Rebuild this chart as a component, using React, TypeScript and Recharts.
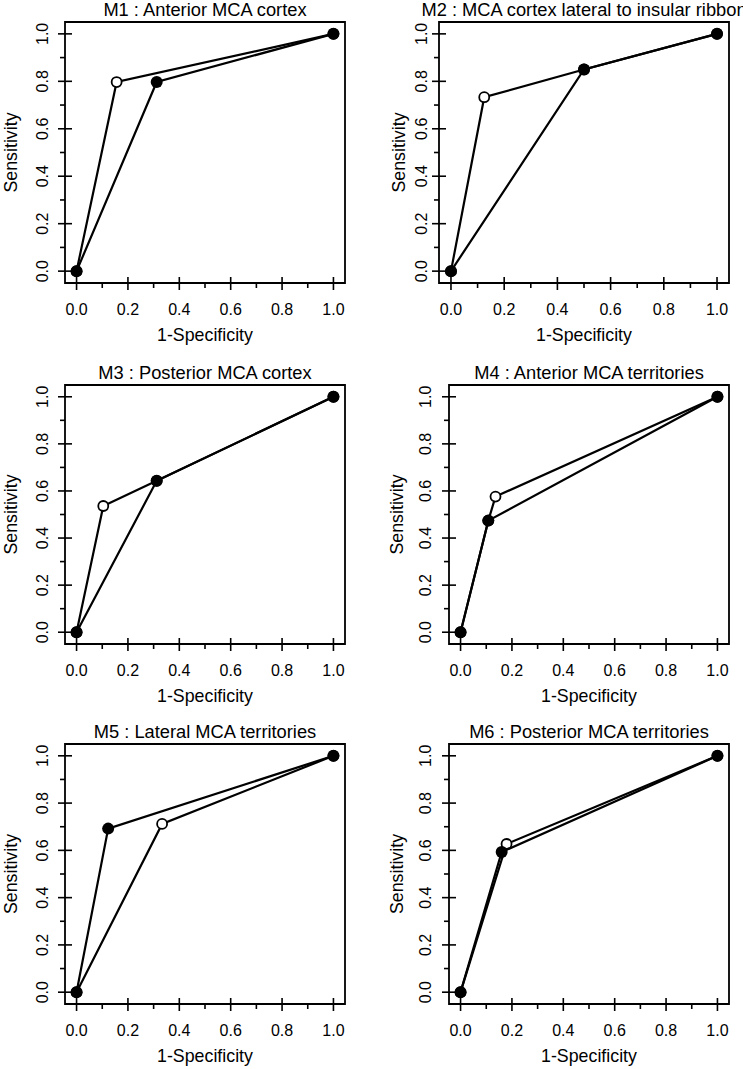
import React from "react";
import { ScatterChart, Scatter, XAxis, YAxis, ReferenceArea } from "recharts";

type Pt = { x: number; y: number };

const FONT = '"Liberation Sans", Arial, Helvetica, sans-serif';

// tick values shared by both axes (labels only on the even ones)
const axisTicks = [0, 0.1, 0.2, 0.3, 0.4, 0.5, 0.6, 0.7, 0.8, 0.9, 1.0];

const titles = [
  "M1 : Anterior MCA cortex",
  "M2 : MCA cortex lateral to insular ribbon",
  "M3 : Posterior MCA cortex",
  "M4 : Anterior MCA territories",
  "M5 : Lateral MCA territories",
  "M6 : Posterior MCA territories",
];

const m1Open: Pt[] = [{ x: 0, y: 0 }, { x: 0.156, y: 0.797 }, { x: 1, y: 1 }];
const m1Filled: Pt[] = [{ x: 0, y: 0 }, { x: 0.312, y: 0.797 }, { x: 1, y: 1 }];

const m2Open: Pt[] = [{ x: 0, y: 0 }, { x: 0.125, y: 0.733 }, { x: 0.5, y: 0.85 }, { x: 1, y: 1 }];
const m2Filled: Pt[] = [{ x: 0, y: 0 }, { x: 0.5, y: 0.85 }, { x: 1, y: 1 }];

const m3Open: Pt[] = [{ x: 0, y: 0 }, { x: 0.104, y: 0.536 }, { x: 0.312, y: 0.643 }, { x: 1, y: 1 }];
const m3Filled: Pt[] = [{ x: 0, y: 0 }, { x: 0.312, y: 0.643 }, { x: 1, y: 1 }];

const m4Open: Pt[] = [{ x: 0, y: 0 }, { x: 0.108, y: 0.474 }, { x: 0.136, y: 0.576 }, { x: 1, y: 1 }];
const m4Filled: Pt[] = [{ x: 0, y: 0 }, { x: 0.108, y: 0.474 }, { x: 1, y: 1 }];

const m5Open: Pt[] = [{ x: 0, y: 0 }, { x: 0.333, y: 0.712 }, { x: 1, y: 1 }];
const m5Filled: Pt[] = [{ x: 0, y: 0 }, { x: 0.123, y: 0.692 }, { x: 1, y: 1 }];

const m6Open: Pt[] = [{ x: 0, y: 0 }, { x: 0.179, y: 0.627 }, { x: 1, y: 1 }];
const m6Filled: Pt[] = [{ x: 0, y: 0 }, { x: 0.16, y: 0.593 }, { x: 1, y: 1 }];

const X_DOMAIN: [number, number] = [-0.045, 1.045];
const Y_DOMAIN: [number, number] = [-0.05, 1.05];
const Y_AXIS_W = 70;
const X_AXIS_H = 72;
const PAD = 6;

// plot box of each panel on the page, plus label offsets from the box's left edge
const panels = [
  { title: titles[0], open: m1Open, filled: m1Filled, box: { l: 65, t: 22, r: 345, b: 283 }, tickOff: 23, labOff: 54 },
  { title: titles[1], open: m2Open, filled: m2Filled, box: { l: 439, t: 22, r: 729, b: 283 }, tickOff: 18, labOff: 40 },
  { title: titles[2], open: m3Open, filled: m3Filled, box: { l: 65, t: 385, r: 345, b: 644 }, tickOff: 23, labOff: 54 },
  { title: titles[3], open: m4Open, filled: m4Filled, box: { l: 449, t: 385, r: 729, b: 644 }, tickOff: 24, labOff: 52 },
  { title: titles[4], open: m5Open, filled: m5Filled, box: { l: 65, t: 744, r: 345, b: 1004 }, tickOff: 23, labOff: 54 },
  { title: titles[5], open: m6Open, filled: m6Filled, box: { l: 449, t: 744, r: 729, b: 1004 }, tickOff: 24, labOff: 52 },
];

const isMajor = (v: number) => Math.round(v * 10) % 2 === 0;

function XTick(props: any) {
  const { x, y, payload } = props;
  const v = payload.value;
  const major = isMajor(v);
  return (
    <g>
      <line x1={x} x2={x} y1={major ? y - 6 : y} y2={y + (major ? 7 : 5)} stroke="#000" strokeWidth={1.6} />
      {major && (
        <text x={x} y={y + 32} textAnchor="middle" fontSize={16} fontFamily={FONT} fill="#000">
          {v.toFixed(1)}
        </text>
      )}
    </g>
  );
}

function YTick(props: any) {
  const { x, y, payload, off } = props;
  const v = payload.value;
  const major = isMajor(v);
  const tx = x - off + 5.7;
  return (
    <g>
      <line x1={major ? x - 7 : x - 5} x2={major ? x + 7 : x} y1={y} y2={y} stroke="#000" strokeWidth={1.6} />
      {major && (
        <text
          x={tx}
          y={y}
          transform={`rotate(-90, ${tx}, ${y})`}
          textAnchor="middle"
          fontSize={16}
          fontFamily={FONT}
          fill="#000"
        >
          {v.toFixed(1)}
        </text>
      )}
    </g>
  );
}

const OpenDot = (props: any) => (
  <circle cx={props.cx} cy={props.cy} r={5} fill="#fff" stroke="#000" strokeWidth={1.8} />
);
const FilledDot = (props: any) => <circle cx={props.cx} cy={props.cy} r={6} fill="#000" />;

function Panel({ p }: { p: (typeof panels)[number] }) {
  const { l, t, r, b } = p.box;
  const w = Y_AXIS_W + (r - l) + PAD;
  const h = PAD + (b - t) + X_AXIS_H;
  return (
    <div style={{ position: "absolute", left: l - Y_AXIS_W, top: t - PAD, width: w, height: h }}>
      <ScatterChart width={w} height={h} margin={{ top: PAD, right: PAD, bottom: 0, left: 0 }}>
        <XAxis
          type="number"
          dataKey="x"
          domain={X_DOMAIN}
          ticks={axisTicks}
          interval={0}
          tick={<XTick />}
          tickSize={0}
          tickMargin={0}
          tickLine={false}
          axisLine={false}
          height={X_AXIS_H}
          label={{
            value: "1-Specificity",
            position: "insideBottom",
            offset: X_AXIS_H - 58,
            fontSize: 17.8,
            fill: "#000",
            fontFamily: FONT,
          }}
        />
        <YAxis
          type="number"
          dataKey="y"
          domain={Y_DOMAIN}
          ticks={axisTicks}
          interval={0}
          tick={(props: any) => <YTick {...props} off={p.tickOff} />}
          tickSize={0}
          tickMargin={0}
          tickLine={false}
          axisLine={false}
          width={Y_AXIS_W}
          label={{
            value: "Sensitivity",
            angle: -90,
            position: "insideLeft",
            offset: Y_AXIS_W - p.labOff,
            fontSize: 17.8,
            fill: "#000",
            fontFamily: FONT,
            style: { textAnchor: "middle" },
          }}
        />
        <ReferenceArea
          x1={X_DOMAIN[0]}
          x2={X_DOMAIN[1]}
          y1={Y_DOMAIN[0]}
          y2={Y_DOMAIN[1]}
          fill="none"
          fillOpacity={0}
          stroke="#000"
          strokeWidth={1.8}
        />
        <Scatter
          data={p.open}
          line={{ stroke: "#000", strokeWidth: 2.2 }}
          lineType="joint"
          shape={OpenDot}
          isAnimationActive={false}
        />
        <Scatter
          data={p.filled}
          line={{ stroke: "#000", strokeWidth: 2.2 }}
          lineType="joint"
          shape={FilledDot}
          isAnimationActive={false}
        />
      </ScatterChart>
    </div>
  );
}

export default function App() {
  return (
    <div
      style={{
        position: "absolute",
        left: 0,
        top: 0,
        width: 743,
        height: 1069,
        overflow: "hidden",
        background: "#fff",
      }}
    >
      {panels.map((p, i) => (
        <Panel key={i} p={p} />
      ))}
      <svg width={743} height={1069} style={{ position: "absolute", left: 0, top: 0, pointerEvents: "none" }}>
        {panels.map((p, i) => (
          <text
            key={i}
            x={(p.box.l + p.box.r) / 2}
            y={p.box.t - 6}
            textAnchor="middle"
            fontSize={18.3}
            fontFamily={FONT}
            fill="#000"
          >
            {p.title}
          </text>
        ))}
      </svg>
    </div>
  );
}
